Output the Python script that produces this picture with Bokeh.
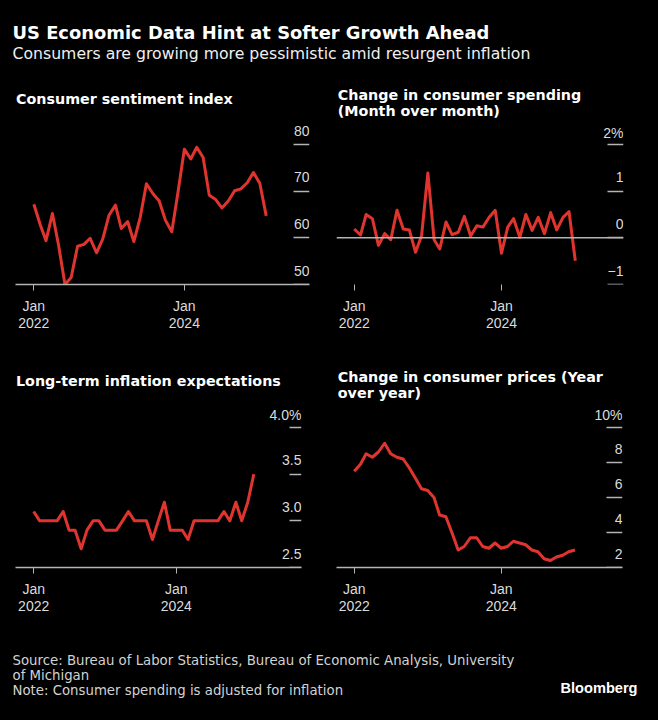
import pandas as pd
from bokeh.plotting import figure
from bokeh.layouts import column, row
from bokeh.models import (Range1d, Label, LinearAxis, FixedTicker, DatetimeTickFormatter,
                          ColumnDataSource, Span, NumeralTickFormatter, BasicTickFormatter)
from bokeh.embed import file_html
from bokeh.resources import INLINE

# ---------------- data ----------------
sentiment = [67.2, 62.8, 59.4, 65.2, 58.4, 50.0, 51.5, 58.2, 58.6, 59.9, 56.8, 59.7,
             64.9, 67.0, 62.0, 63.5, 59.2, 64.4, 71.6, 69.5, 67.9, 63.8, 61.3, 69.7,
             79.0, 76.9, 79.4, 77.2, 69.1, 68.2, 66.4, 67.9, 70.1, 70.5, 71.8, 74.0,
             71.7, 64.7]
spending = [0.19, 0.06, 0.50, 0.41, -0.16, 0.09, -0.04, 0.59, 0.19, 0.17, -0.31, 0.05,
            1.39, -0.04, -0.24, 0.34, 0.07, 0.12, 0.46, 0.04, 0.26, 0.23, 0.44, 0.59,
            -0.33, 0.23, 0.41, 0.01, 0.50, 0.16, 0.44, 0.09, 0.54, 0.17, 0.44, 0.56,
            -0.49]
expectations = [3.1, 3.0, 3.0, 3.0, 3.0, 3.1, 2.9, 2.9, 2.7, 2.9, 3.0, 3.0,
                2.9, 2.9, 2.9, 3.0, 3.1, 3.0, 3.0, 3.0, 2.8, 3.0, 3.2, 2.9,
                2.9, 2.9, 2.8, 3.0, 3.0, 3.0, 3.0, 3.0, 3.1, 3.0, 3.2, 3.0,
                3.2, 3.5]
cpi = [7.5, 7.9, 8.5, 8.3, 8.6, 9.1, 8.5, 8.3, 8.2, 7.7, 7.1, 6.5,
       6.4, 6.0, 5.0, 4.9, 4.0, 3.0, 3.2, 3.7, 3.7, 3.2, 3.1, 3.4,
       3.1, 3.2, 3.5, 3.4, 3.3, 3.0, 2.9, 2.5, 2.4, 2.6, 2.7, 2.9,
       3.0]
first_month = "2022-01-01"

sent_ticks = [50, 60, 70, 80]
spend_ticks = [-1, 0, 1, 2]
exp_ticks = [2.5, 3.0, 3.5, 4.0]
cpi_ticks = [2, 4, 6, 8, 10]
spend_overrides = {2: "2%"}
exp_overrides = {4.0: "4.0%"}
cpi_overrides = {10: "10%"}
x_tick_dates = ["2022-01-01", "2024-01-01"]

TITLE = "US Economic Data Hint at Softer Growth Ahead"
SUBTITLE = "Consumers are growing more pessimistic amid resurgent inflation"
T1 = ["Consumer sentiment index"]
T2 = ["Change in consumer spending", "(Month over month)"]
T3 = ["Long-term inflation expectations"]
T4 = ["Change in consumer prices (Year", "over year)"]
FOOT = ["Source: Bureau of Labor Statistics, Bureau of Economic Analysis, University",
        "of Michigan",
        "Note: Consumer spending is adjusted for inflation"]
BRAND = "Bloomberg"

# ---------------- style ----------------
BG = "#000000"
RED = "#e0352f"
GRID = "#b4b4b4"
TICKTXT = "#dcdcdc"
TICKFONT = "Liberation Sans"
TXTFONT = "DejaVu Sans"
BASE_CORR = 0.4   # label baseline correction, in em


def ms(d):
    return pd.Timestamp(d).value / 1e6


def text_fig(width, height, top):
    f = figure(width=width, height=height, x_range=Range1d(0, width),
               y_range=Range1d(top + height, top), x_axis_location=None, y_axis_location=None,
               toolbar_location=None, output_backend="svg", min_border=0,
               background_fill_color=BG, border_fill_color=BG, outline_line_color=None)
    f.grid.visible = False
    f.title.visible = False
    return f


def add_text(f, x, y, text, size, color="#ffffff", bold=False, font=TXTFONT, align="left"):
    y_adj = y - BASE_CORR * size
    f.add_layout(Label(x=x, y=y_adj, text=text, text_font=font, text_font_size=f"{size}px",
                       text_font_style="bold" if bold else "normal", text_color=color,
                       text_baseline="alphabetic", text_align=align))


def panel(width, height, bl, br, bb, xr, yr, vals, ticks, fmt, overrides, dash_len,
          lbl_shift, baseline=True, zero=False):
    dates = pd.date_range(first_month, periods=len(vals), freq="MS")
    p = figure(width=width, height=height, x_axis_type="datetime",
               x_range=Range1d(pd.Timestamp(xr[0]), pd.Timestamp(xr[1])),
               y_range=Range1d(yr[0], yr[1]), y_axis_location=None,
               toolbar_location=None, output_backend="svg",
               min_border_left=bl, min_border_right=br, min_border_top=0, min_border_bottom=bb,
               background_fill_color=BG, border_fill_color=BG, outline_line_color=None)
    p.title.visible = False
    p.grid.visible = False

    xa = p.xaxis[0]
    xa.ticker = FixedTicker(ticks=[ms(d) for d in x_tick_dates])
    xa.formatter = DatetimeTickFormatter(years="%b\n%Y", months="%b\n%Y", days="%b\n%Y")
    xa.axis_line_color = GRID if baseline else None
    xa.axis_line_width = 1.5
    xa.major_tick_line_color = GRID
    xa.major_tick_line_width = 1
    xa.major_tick_out = 6
    xa.major_tick_in = 0
    xa.minor_tick_line_color = None
    xa.major_label_text_font = TICKFONT
    xa.major_label_text_font_size = "14px"
    xa.major_label_text_color = TICKTXT
    xa.major_label_standoff = 7
    xa.major_label_text_line_height = 1.1

    if zero:
        p.add_layout(Span(location=0, dimension="width", line_color=GRID, line_width=1.5))

    xend = ms(xr[1])
    dash = LinearAxis(ticker=FixedTicker(ticks=ticks), fixed_location=xend,
                      axis_line_color=None, major_tick_line_color=GRID,
                      major_tick_line_width=1.5, major_tick_out=dash_len, major_tick_in=0,
                      minor_tick_line_color=None, major_label_text_color=None,
                      major_label_standoff=0)
    p.add_layout(dash, "left")

    p.extra_y_ranges = {"lbl": Range1d(yr[0] - lbl_shift, yr[1] - lbl_shift)}
    lab = LinearAxis(y_range_name="lbl", ticker=FixedTicker(ticks=ticks), fixed_location=xend,
                     formatter=fmt, major_label_overrides=overrides,
                     axis_line_color=None, major_tick_line_color=None, major_tick_out=0,
                     major_tick_in=0, minor_tick_line_color=None, major_label_standoff=0,
                     major_label_text_font=TICKFONT, major_label_text_font_size="14px",
                     major_label_text_color=TICKTXT)
    p.add_layout(lab, "left")

    src = ColumnDataSource(dict(date=dates, value=vals))
    p.line(x="date", y="value", source=src, line_color=RED, line_width=3, line_join="round")
    return p


# header (image y 0..124)
head = text_fig(658, 124, 0)
add_text(head, 12, 39.5, TITLE, 17.9, bold=True)
add_text(head, 12, 59.5, SUBTITLE, 15.7, color="#f0f0f0")
add_text(head, 15.5, 104, T1[0], 14.3, bold=True)
add_text(head, 337.3, 100, T2[0], 14.3, bold=True)
add_text(head, 337.3, 116.3, T2[1], 14.3, bold=True)

p1 = panel(329, 216, 15, 20, 56, ("2021-10-04", "2025-08-30"), (50, 84.286), sentiment,
           sent_ticks, BasicTickFormatter(), {}, 16, 3.0, baseline=True)
p2 = panel(329, 216, 7, 35, 56, ("2021-10-05", "2025-08-28"), (-1, 2.4286), spending,
           spend_ticks, BasicTickFormatter(), spend_overrides, 16, 0.3, baseline=False, zero=True)

mid = text_fig(658, 66, 340)
add_text(mid, 15.5, 386.7, T3[0], 14.3, bold=True)
add_text(mid, 337.3, 382.3, T4[0], 14.3, bold=True)
add_text(mid, 337.3, 398.5, T4[1], 14.3, bold=True)

p3 = panel(329, 219, 15, 28, 58, ("2021-09-30", "2025-10-03"), (2.5, 4.225), expectations,
           exp_ticks, NumeralTickFormatter(format="0.0"), exp_overrides, 12, 0.15, baseline=True)
p4 = panel(329, 219, 7, 36, 58, ("2021-10-05", "2025-08-25"), (2, 11.2), cpi,
           cpi_ticks, BasicTickFormatter(), cpi_overrides, 16, 0.8, baseline=True)

foot = text_fig(658, 94, 625)
add_text(foot, 12, 665, FOOT[0], 13.3, color="#d2d2d2")
add_text(foot, 12, 680, FOOT[1], 13.3, color="#d2d2d2")
add_text(foot, 12, 695, FOOT[2], 13.3, color="#d2d2d2")
add_text(foot, 637, 693.5, BRAND, 14.6, bold=True, font="Liberation Sans", align="right")

layout = column(head, row(p1, p2), mid, row(p3, p4), foot)

try:
    from bokeh.models import GlobalInlineStyleSheet
    layout.stylesheets = [GlobalInlineStyleSheet(css="html, body { background: #000000; }")]
except Exception:
    pass

open("out.html", "w").write(file_html(layout, INLINE))
